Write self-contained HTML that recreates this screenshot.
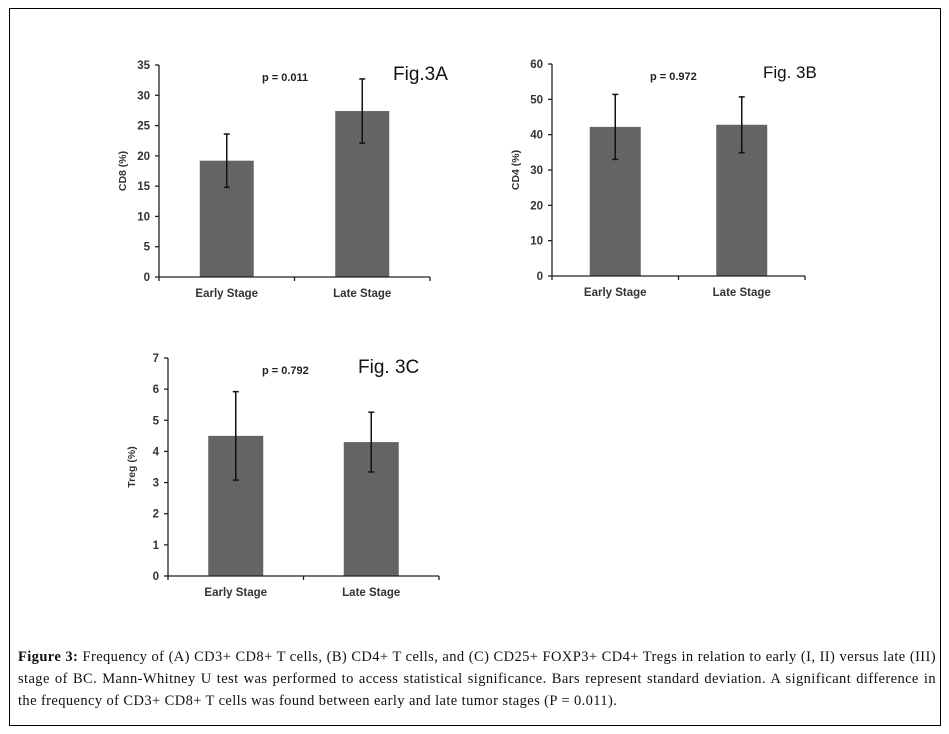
<!DOCTYPE html>
<html><head><meta charset="utf-8"><style>
body{margin:0;background:#fff;width:949px;height:734px;overflow:hidden;position:relative}
#frame{position:absolute;left:9px;top:8px;width:932px;height:718px;border:1.5px solid #000;box-sizing:border-box}
#cap{position:absolute;left:18px;top:646px;width:918px;font-family:"Liberation Serif",serif;font-size:14.5px;line-height:22px;color:#111;letter-spacing:0.4px}
#cap div{white-space:nowrap;overflow:visible}
#cap .j{text-align:justify;text-align-last:justify;white-space:normal}
svg{position:absolute;left:0;top:0}
</style></head><body>
<div id="frame"></div>
<svg id="s" width="949" height="734"></svg>
<div id="cap">
<div class="j"><b>Figure 3:</b> Frequency of (A) CD3+ CD8+ T cells, (B) CD4+ T cells, and (C) CD25+ FOXP3+ CD4+ Tregs in relation to early (I, II) versus late (III)</div>
<div class="j">stage of BC. Mann-Whitney U test was performed to access statistical significance. Bars represent standard deviation. A significant difference in</div>
<div>the frequency of CD3+ CD8+ T cells was found between early and late tumor stages (P = 0.011).</div>
</div>
<script>
const categories=["Early Stage","Late Stage"];
const cd8Values=[19.2,27.4];
const cd8Errors=[4.4,5.3];
const cd8Ticks=[0,5,10,15,20,25,30,35];
const cd4Values=[42.2,42.8];
const cd4Errors=[9.2,7.9];
const cd4Ticks=[0,10,20,30,40,50,60];
const tregValues=[4.5,4.3];
const tregErrors=[1.42,0.96];
const tregTicks=[0,1,2,3,4,5,6,7];
const NS="http://www.w3.org/2000/svg";
const svg=document.getElementById('s');
function mk(tag,attrs,parent,text){const e=document.createElementNS(NS,tag);for(const k in attrs)e.setAttribute(k,attrs[k]);if(text!==undefined)e.textContent=text;(parent||svg).appendChild(e);return e;}
function chart(cfg,vals,errs,ticks){
 const g=mk('g',{});
 
 
 const max=ticks[ticks.length-1];
 const y=v=>cfg.y0-(cfg.y0-cfg.yTop)*v/max;
 const bandW=(cfg.xEnd-cfg.x0)/categories.length;
 const x=i=>cfg.x0+bandW*(i+0.5);
 const bw=cfg.bw;
 vals.forEach((v,i)=>{
  const r=mk('rect',{x:x(i)-bw/2,y:y(v),width:bw,height:cfg.y0-y(v),fill:'#646464'},g);
  
  
  const e=mk('g',{stroke:'#111','stroke-width':1.5},g);
  
  
  mk('line',{x1:x(i),x2:x(i),y1:y(v+errs[i]),y2:y(v-errs[i])},e);
  mk('line',{x1:x(i)-3,x2:x(i)+3,y1:y(v+errs[i]),y2:y(v+errs[i])},e);
  mk('line',{x1:x(i)-3,x2:x(i)+3,y1:y(v-errs[i]),y2:y(v-errs[i])},e);
  const t=mk('text',{x:x(i),y:cfg.y0+20,'text-anchor':'middle','font-family':'Liberation Sans, sans-serif','font-size':11.5,'font-weight':'bold',fill:'#333'},g,categories[i]);
  
  
 });
 const ax=mk('g',{stroke:'#222','stroke-width':1.3},g);
 
 
 mk('line',{x1:cfg.x0,x2:cfg.x0,y1:cfg.yTop,y2:cfg.y0},ax);
 mk('line',{x1:cfg.x0,x2:cfg.xEnd,y1:cfg.y0,y2:cfg.y0},ax);
 [0,1,2].forEach(k=>{const xx=cfg.x0+bandW*k;mk('line',{x1:xx,x2:xx,y1:cfg.y0,y2:cfg.y0+4},ax);});
 ticks.forEach(tv=>{
  mk('line',{x1:cfg.x0-4,x2:cfg.x0,y1:y(tv),y2:y(tv)},ax);
  const t=mk('text',{x:cfg.x0-9,y:y(tv)+4,'text-anchor':'end','font-family':'Liberation Sans, sans-serif','font-size':11.5,'font-weight':'bold',fill:'#333'},g,tv);
  
  
 });
 const yl=mk('text',{transform:`translate(${cfg.x0-33},${(cfg.y0+cfg.yTop)/2}) rotate(-90)`,'text-anchor':'middle','font-family':'Liberation Sans, sans-serif','font-size':10.5,'font-weight':'bold',fill:'#333'},g,cfg.ylabel);
 
 
 const p=mk('text',{x:cfg.px,y:cfg.py,'font-family':'Liberation Sans, sans-serif','font-size':11,'font-weight':'bold',fill:'#222'},g,cfg.p);
 
 
 const f=mk('text',{x:cfg.fx,y:cfg.fy,'font-family':'Liberation Sans, sans-serif','font-size':cfg.fs,fill:'#111'},g,cfg.fig);
 
 
}
chart({name:'chart-cd8',key:'cd8',x0:159,xEnd:430,y0:277,yTop:65,bw:54,ylabel:'CD8 (%)',p:'p = 0.011',px:262,py:81,fig:'Fig.3A',fx:393,fy:80,fs:19},cd8Values,cd8Errors,cd8Ticks);
chart({name:'chart-cd4',key:'cd4',x0:552,xEnd:805,y0:276,yTop:64,bw:51,ylabel:'CD4 (%)',p:'p = 0.972',px:650,py:80,fig:'Fig. 3B',fx:763,fy:78,fs:17},cd4Values,cd4Errors,cd4Ticks);
chart({name:'chart-treg',key:'treg',x0:168,xEnd:439,y0:576,yTop:358,bw:55,ylabel:'Treg (%)',p:'p = 0.792',px:262,py:374,fig:'Fig. 3C',fx:358,fy:373,fs:19},tregValues,tregErrors,tregTicks);
</script>
</body></html>
